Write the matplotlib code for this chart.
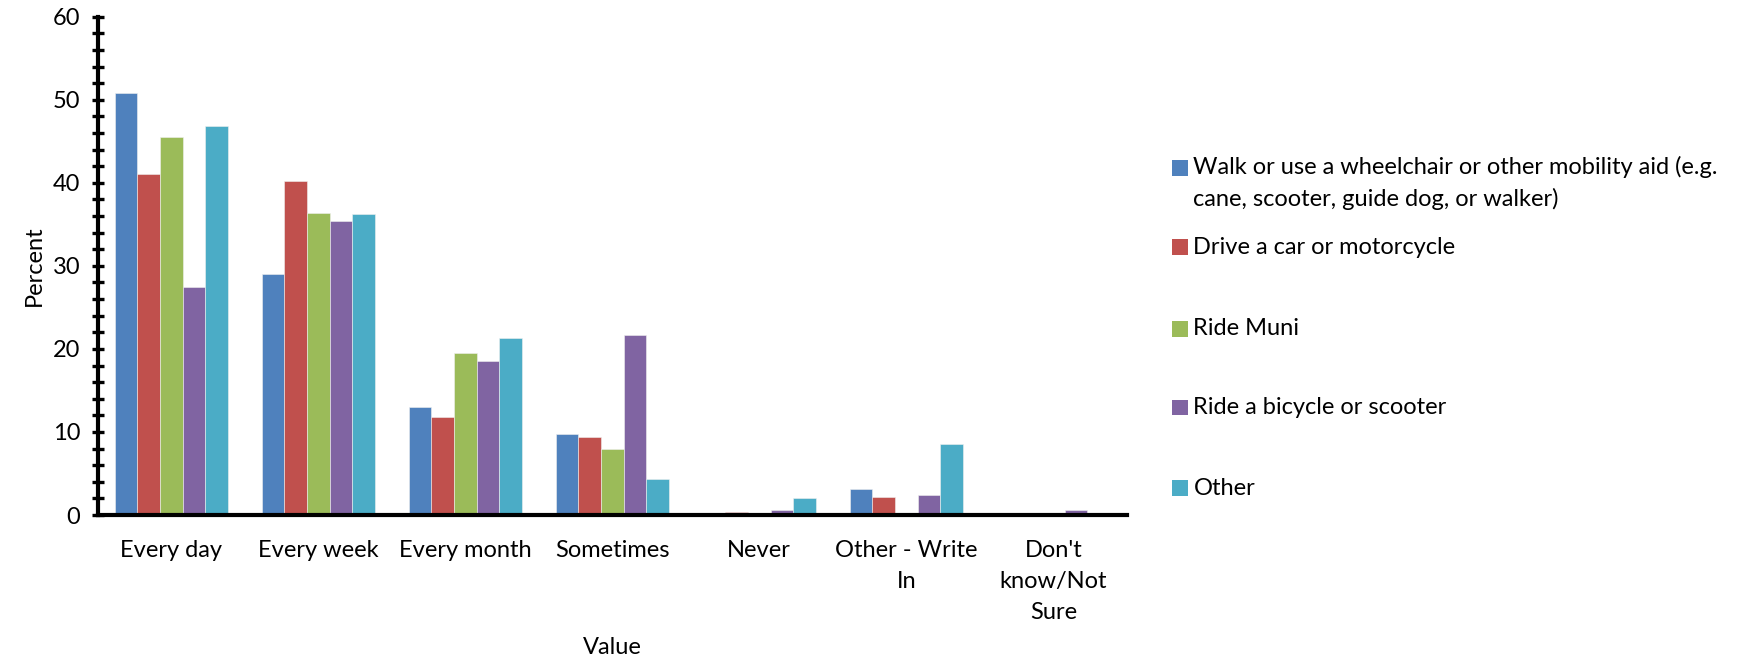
import matplotlib
matplotlib.use("Agg")
import matplotlib.pyplot as plt
import numpy as np
from matplotlib.ticker import MultipleLocator
from matplotlib.patches import Rectangle

categories = ["Every day", "Every week", "Every month", "Sometimes", "Never",
              "Other - Write\nIn", "Don't\nknow/Not\nSure"]
series_names = ["Walk or use a wheelchair or other mobility aid (e.g.\ncane, scooter, guide dog, or walker)",
                "Drive a car or motorcycle", "Ride Muni", "Ride a bicycle or scooter", "Other"]
walk = [50.8, 29.0, 13.0, 9.8, 0.0, 3.1, 0.0]
drive = [41.1, 40.2, 11.8, 9.4, 0.4, 2.2, 0.0]
muni = [45.5, 36.4, 19.5, 7.9, 0.0, 0.0, 0.0]
bicycle = [27.5, 35.4, 18.6, 21.7, 0.6, 2.4, 0.6]
other = [46.8, 36.2, 21.3, 4.3, 2.0, 8.5, 0.0]
series = [walk, drive, muni, bicycle, other]
colors = ["#4F81BD", "#C0504D", "#9BBB59", "#8064A2", "#4BACC6"]

plt.rcParams['font.family'] = ['Lato', 'DejaVu Sans']
FS = 17

fig = plt.figure(figsize=(17.59, 6.68), dpi=100)
ax = fig.add_axes([0.0556, 0.229, 0.585, 0.746])

x = np.arange(len(categories))
w = 0.154
for i, (vals, c, name) in enumerate(zip(series, colors, series_names)):
    ax.bar(x + (i - 2) * w, vals, w, color=c, edgecolor="#f0f0f0", linewidth=0.4, label=name)

ax.set_xlim(-0.5, len(categories) - 0.5)
ax.set_ylim(0, 60)
ax.yaxis.set_major_locator(MultipleLocator(10))
ax.yaxis.set_minor_locator(MultipleLocator(2))
ax.tick_params(axis='y', which='major', direction='inout', length=9, width=2.4, labelsize=FS, pad=8)
ax.tick_params(axis='y', which='minor', direction='inout', length=9, width=2.4)
ax.set_xticks(x)
ax.set_xticklabels(categories, fontsize=FS, linespacing=1.6, va='top')
ax.tick_params(axis='x', length=0, pad=18)
for s in ['top', 'right']:
    ax.spines[s].set_visible(False)
for s in ['left', 'bottom']:
    ax.spines[s].set_linewidth(3.0)
ax.set_ylabel("Percent", fontsize=FS, labelpad=6)
ax.set_xlabel("Value", fontsize=FS, labelpad=10)

# Legend (manually positioned like the original)
hx, hw = 0.6665, 0.0090
hh = hw * 17.59 / 6.68
tx = 0.6785
ys = [0.748, 0.630, 0.508, 0.390, 0.269]
for name, c, y in zip(series_names, colors, ys):
    fig.patches.append(Rectangle((hx, y - hh / 2), hw, hh, transform=fig.transFigure,
                                 facecolor=c, edgecolor='none'))
    if "\n" in name:
        fig.text(tx, y + 0.018, name, fontsize=FS, va='top', ha='left', linespacing=1.55)
    else:
        fig.text(tx, y, name, fontsize=FS, va='center', ha='left')

fig.savefig("out.png", dpi=100)
